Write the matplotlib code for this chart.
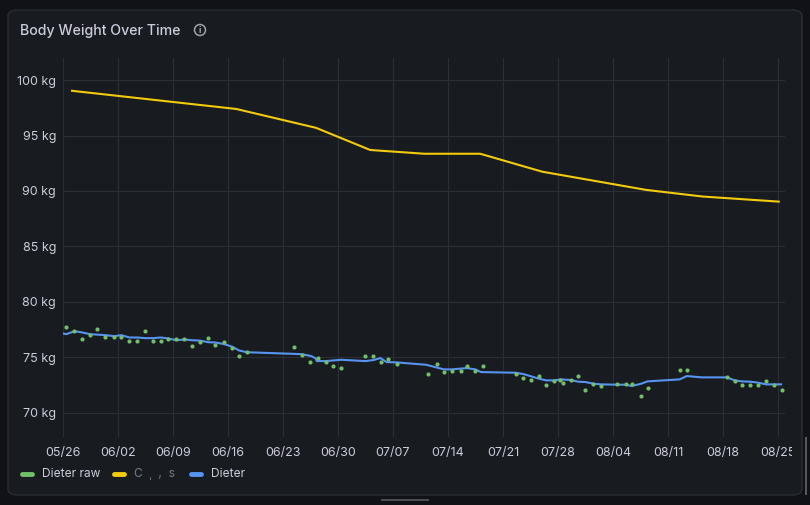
import datetime as dt
import matplotlib
matplotlib.use("Agg")
import matplotlib.pyplot as plt
import matplotlib.dates as mdates
from matplotlib.lines import Line2D
from matplotlib.patches import FancyBboxPatch, Ellipse, Rectangle
from matplotlib.transforms import Bbox, TransformedBbox

plt.rcParams['font.family'] = ['Inter', 'DejaVu Sans']

# data (day offsets from 05/26, kg)
raw_days = [0.43, 1.45, 2.47, 3.43, 4.38, 5.39, 6.54, 7.43, 8.45, 9.47, 10.48, 11.5,
            12.43, 13.4, 14.43, 15.45, 16.46, 17.43, 18.5, 19.39, 20.53, 21.55, 22.44,
            23.4, 29.44, 30.4, 31.5, 32.4, 33.5, 34.4, 35.4, 38.5, 39.5, 40.5, 41.4,
            42.5, 46.5, 47.6, 48.5, 49.5, 50.6, 51.4, 52.5, 53.5, 57.6, 58.6, 59.6,
            60.6, 61.5, 62.5, 63.3, 63.7, 64.6, 65.6, 66.5, 67.5, 68.5, 70.5, 71.6,
            72.4, 73.6, 74.4, 78.5, 79.4, 84.5, 85.5, 86.4, 87.5, 88.5, 89.5, 90.5, 91.5]
raw_kg = [77.71, 77.38, 76.62, 76.96, 77.52, 76.78, 76.78, 76.78, 76.45, 76.45, 77.35, 76.45,
          76.45, 76.6, 76.66, 76.66, 76.0, 76.35, 76.75, 76.09, 76.4, 75.79, 75.1,
          75.45, 75.9, 75.19, 74.55, 74.91, 74.53, 74.19, 74.01, 75.1, 75.1, 74.55, 74.82,
          74.35, 73.48, 74.38, 73.65, 73.72, 73.74, 74.19, 73.72, 74.19, 73.48, 73.12, 72.94,
          73.3, 72.49, 72.85, 72.94, 72.67, 72.94, 73.3, 72.04, 72.58, 72.4, 72.61, 72.61,
          72.61, 71.5, 72.22, 73.84, 73.84, 73.24, 72.85, 72.49, 72.49, 72.49, 72.85, 72.49, 72.04]

trend_days = [0.0, 0.43, 1.45, 2.47, 3.43, 5.39, 6.54, 7.43, 8.45, 9.47, 10.48, 11.5, 12.43,
              13.4, 14.43, 15.45, 16.46, 17.43, 18.5, 19.39, 20.53, 21.55, 22.44, 23.4,
              29.44, 30.4, 31.6, 32.15, 32.3, 33.5, 35.4, 38.5, 39.5, 40.4, 41.2, 42.5,
              46.2, 48.5, 49.5, 51.4, 52.5, 53.2, 57.6, 58.6, 60.6, 61.5, 62.5, 63.4,
              64.6, 65.6, 66.5, 67.5, 68.5, 70.5, 71.6, 72.4, 73.6, 74.4, 78.5, 79.4,
              81.3, 84.5, 85.5, 86.4, 87.5, 88.5, 89.5, 91.4]
trend_kg = [77.14, 77.08, 77.35, 77.23, 77.08, 76.99, 76.9, 76.99, 76.78, 76.78, 76.72, 76.72,
            76.78, 76.69, 76.53, 76.6, 76.53, 76.5, 76.35, 76.33, 76.18, 75.94, 75.6, 75.45,
            75.3, 75.27, 75.1, 74.9, 74.65, 74.65, 74.77, 74.65, 74.74, 74.92, 74.56, 74.53,
            74.32, 73.9, 73.9, 74.02, 73.9, 73.66, 73.6, 73.48, 73.06, 72.91, 72.91, 73.0,
            72.94, 72.79, 72.76, 72.61, 72.55, 72.52, 72.52, 72.4, 72.61, 72.82, 73.0, 73.3,
            73.18, 73.18, 72.91, 72.82, 72.79, 72.7, 72.55, 72.55]

goal_days = [1.15, 22.06, 32.2, 39.1, 46.0, 53.1, 61.0, 74.2, 81.4, 91.1]
goal_kg = [99.04, 97.4, 95.7, 93.7, 93.36, 93.36, 91.74, 90.1, 89.5, 89.04]

y_ticks = [70, 75, 80, 85, 90, 95, 100]
legend_labels = ["Dieter raw", "C  ˌ  ,  s", "Dieter"]

start = dt.datetime(2024, 5, 26)
to_date = lambda days: [start + dt.timedelta(days=d) for d in days]

BG = "#111217"
PANEL = "#181b1f"
TEXT = "#ccccdc"
GRID = "#2b2e34"
GREEN = "#73bf69"
YELLOW = "#f2cc0c"
BLUE = "#5794f2"

fig = plt.figure(figsize=(8.1, 5.05), dpi=100, facecolor=BG)
W, H = 810, 505

panel = FancyBboxPatch((8 / W, 10 / H), 794 / W, 485 / H,
                       boxstyle="round,pad=0,rounding_size=0.012",
                       transform=fig.transFigure, facecolor=PANEL,
                       edgecolor="#2a2d33", linewidth=1, zorder=-5)
fig.patches.append(panel)

ax = fig.add_axes([63 / W, (H - 437) / H, (785 - 63) / W, (437 - 58) / H])
ax.patch.set_alpha(0)

ax.plot(to_date(goal_days), goal_kg, color=YELLOW, linewidth=1.5, zorder=3)
ax.plot(to_date(trend_days), trend_kg, color=BLUE, linewidth=1.5, zorder=4)
ax.scatter(to_date(raw_days), raw_kg, color=GREEN, s=9, zorder=5, linewidths=0)

ax.set_xlim(start, start + dt.timedelta(days=91.9))
ax.set_ylim(67.8, 102.0)
ax.set_yticks(y_ticks)
ax.set_yticklabels([f"{v} kg" for v in y_ticks])
ax.set_xticks([start + dt.timedelta(days=7 * k) for k in range(14)])
ax.xaxis.set_major_formatter(mdates.DateFormatter("%m/%d"))

ax.grid(True, color=GRID, linewidth=0.8)
ax.set_axisbelow(True)
for s in ax.spines.values():
    s.set_visible(False)
ax.tick_params(length=0, colors=TEXT, labelsize=9)
ax.tick_params(axis="x", pad=7)
ax.tick_params(axis="y", pad=5)

# last date label is cut off by the panel edge
clip = TransformedBbox(Bbox([[0, 0], [792 / W, 1]]), fig.transFigure)
for lbl in ax.get_xticklabels():
    lbl.set_clip_box(clip)
    lbl.set_clip_on(True)

# title + info icon
fig.text(20 / W, 1 - 31 / H, "Body Weight Over Time", color=TEXT, fontsize=10.2,
         fontweight="medium", va="center", ha="left")
fig.patches.append(Ellipse((200 / W, 1 - 30 / H), 11 / W, 11 / H, transform=fig.transFigure,
                           facecolor="none", edgecolor="#9fa3ab", linewidth=1.1))
fig.text(200 / W, 1 - 30.5 / H, "i", color="#9fa3ab", fontsize=6.5, fontweight="bold",
         ha="center", va="center")

# legend, laid out by hand like the dashboard's
legend_colors = [GREEN, YELLOW, BLUE]
legend_x = [22, 114, 191]
legend_text_colors = [TEXT, "#777a82", TEXT]
ly = 1 - 474 / H
for x0, col, lab, tcol in zip(legend_x, legend_colors, legend_labels, legend_text_colors):
    fig.lines.append(Line2D([x0 / W, (x0 + 10) / W], [ly, ly], transform=fig.transFigure,
                            color=col, lw=3.5, solid_capstyle="round"))
    fig.text((x0 + 20) / W, ly, lab, color=tcol, fontsize=8.6, va="center", ha="left")

# bottom handle + scrollbar
fig.patches.append(Rectangle((381 / W, 1 - 500.5 / H), 48 / W, 1.5 / H,
                             transform=fig.transFigure, facecolor="#4a4d55", edgecolor="none"))
fig.patches.append(Rectangle((805 / W, 1 - 495 / H), 2 / W, 58 / H,
                             transform=fig.transFigure, facecolor="#55585f", edgecolor="none"))

fig.savefig("out.png", dpi=100, facecolor=BG)
